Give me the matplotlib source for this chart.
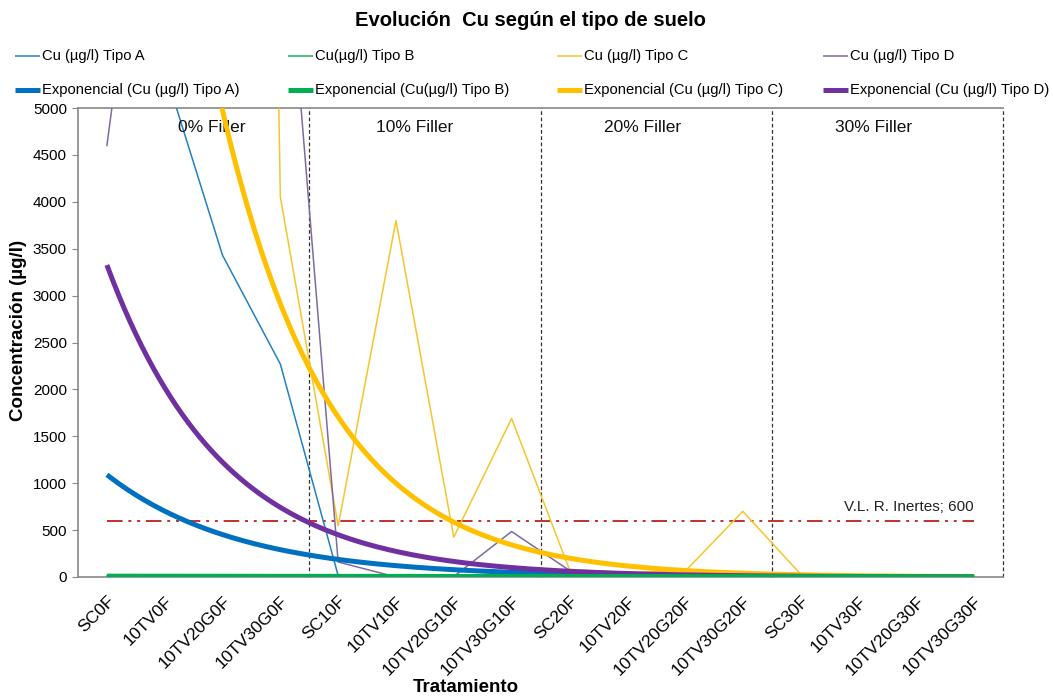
import numpy as np
import matplotlib
matplotlib.use("Agg")
import matplotlib.pyplot as plt
from matplotlib.lines import Line2D

plt.rcParams['font.family'] = ['Liberation Sans', 'DejaVu Sans']

categories = ['SC0F', '10TV0F', '10TV20G0F', '10TV30G0F',
              'SC10F', '10TV10F', '10TV20G10F', '10TV30G10F',
              'SC20F', '10TV20F', '10TV20G20F', '10TV30G20F',
              'SC30F', '10TV30F', '10TV20G30F', '10TV30G30F']

cu_a = [6500, 5400, 3430, 2270, 15, 10, 8, 6, 5, 4, 4, 3, 3, 2, 2, 2]
cu_b = [10, 9, 8, 8, 7, 7, 6, 6, 5, 5, 5, 4, 4, 4, 3, 3]
cu_c = [30000, 35000, 40000, 4050, 545, 3800, 425, 1690, 80, 50, 60, 700, 30, 15, 10, 8]
cu_d = [4600, 9250, 8500, 7700, 160, 0, 5, 485, 70, 20, 15, 10, 8, 5, 4, 3]

# exponential trendlines y = c * exp(b * i), coefficients
trend_c = {'A': 1090, 'B': 9, 'C': 14500, 'D': 3326}
trend_b = {'A': -0.44, 'B': -0.08, 'C': -0.535, 'D': -0.50}

limit_value = 600
limit_label = 'V.L. R. Inertes; 600'
filler_labels = ['0% Filler', '10% Filler', '20% Filler', '30% Filler']
filler_pos = [1.81, 5.32, 9.27, 13.26]

thin_colors = {'A': '#2281C4', 'B': '#1DAF5E', 'C': '#F7C52A', 'D': '#7E6A9E'}
thick_colors = {'A': '#0070C0', 'B': '#00B050', 'C': '#FFC000', 'D': '#7030A0'}
labels_thin = {'A': 'Cu (µg/l) Tipo A', 'B': 'Cu(µg/l) Tipo B',
               'C': 'Cu (µg/l) Tipo C', 'D': 'Cu (µg/l) Tipo D'}
labels_thick = {'A': 'Exponencial (Cu (µg/l) Tipo A)', 'B': 'Exponencial (Cu(µg/l) Tipo B)',
                'C': 'Exponencial (Cu (µg/l) Tipo C)', 'D': 'Exponencial (Cu (µg/l) Tipo D)'}

W, H = 1053, 697
fig = plt.figure(figsize=(W / 100, H / 100), dpi=100)
ax = fig.add_axes([78 / W, 1 - 577 / H, (1003 - 78) / W, (577 - 108) / H])

x = np.arange(len(categories))
series = {'A': cu_a, 'B': cu_b, 'C': cu_c, 'D': cu_d}
for k in ['A', 'B', 'C', 'D']:
    ax.plot(x, series[k], color=thin_colors[k], lw=1.1, zorder=3)

xt = np.linspace(0, len(categories) - 1, 300)
for k in ['A', 'C', 'D', 'B']:
    ax.plot(xt, trend_c[k] * np.exp(trend_b[k] * xt), color=thick_colors[k],
            lw=3.6, zorder=4, solid_capstyle='butt')

ax.plot([0, len(categories) - 1], [limit_value, limit_value], color='#C0302E',
        lw=1.4, dashes=(8, 3, 1.5, 3, 1.5, 3), zorder=2)
ax.text(len(categories) - 1, limit_value + 70, limit_label, ha='right', va='bottom',
        fontsize=11, color='#222222')

for b in [3.5, 7.5, 11.5, 15.5]:
    ax.axvline(b, color='#333333', lw=0.9, ls=(0, (3, 2)), zorder=1, clip_on=False)

for t, p in zip(filler_labels, filler_pos):
    ax.text(p, 4790, t, ha='center', va='center', fontsize=12.5, color='#111111')

ax.set_xlim(-0.5, 15.5)
ax.set_ylim(0, 5000)
ax.set_yticks(np.arange(0, 5001, 500))
ax.tick_params(axis='y', labelsize=11, length=4, color='#888888', pad=4)
ax.set_xticks(x)
ax.set_xticklabels(categories, rotation=45, ha='right', rotation_mode='anchor',
                   fontsize=12.5)
ax.tick_params(axis='x', length=0, pad=12)
for s in ['left', 'top', 'bottom']:
    ax.spines[s].set_color('#888888')
    ax.spines[s].set_linewidth(1.2)
ax.spines['right'].set_visible(False)

ax.set_ylabel('Concentración (µg/l)', fontsize=13.5, fontweight='bold')
ax.yaxis.set_label_coords(-0.064, (577 - 330) / 469)
ax.set_xlabel('Tratamiento', fontsize=13.5, fontweight='bold')
ax.xaxis.set_label_coords((466 - 78) / 925, -(687 - 577) / 469)
ax.xaxis.label.set_va('center')
ax.yaxis.label.set_va('center')

fig.text(530 / W, 1 - 20 / H, 'Evolución  Cu según el tipo de suelo', ha='center',
         va='center', fontsize=14.5, fontweight='bold')

# legend (two rows of four entries)
col_x = [15, 288, 557, 823]
row_y = [56, 90]
for i, k in enumerate(['A', 'B', 'C', 'D']):
    for r, (lab, col, lw) in enumerate([(labels_thin[k], thin_colors[k], 1.1),
                                         (labels_thick[k], thick_colors[k], 3.6)]):
        x0 = col_x[i]
        y0 = row_y[r]
        fig.add_artist(Line2D([x0 / W, (x0 + 25) / W], [1 - y0 / H, 1 - y0 / H],
                              color=col, lw=lw, solid_capstyle='butt'))
        fig.text((x0 + 27) / W, 1 - y0 / H, lab, ha='left', va='center',
                 fontsize=10.6)

fig.savefig('out.png', dpi=100)
